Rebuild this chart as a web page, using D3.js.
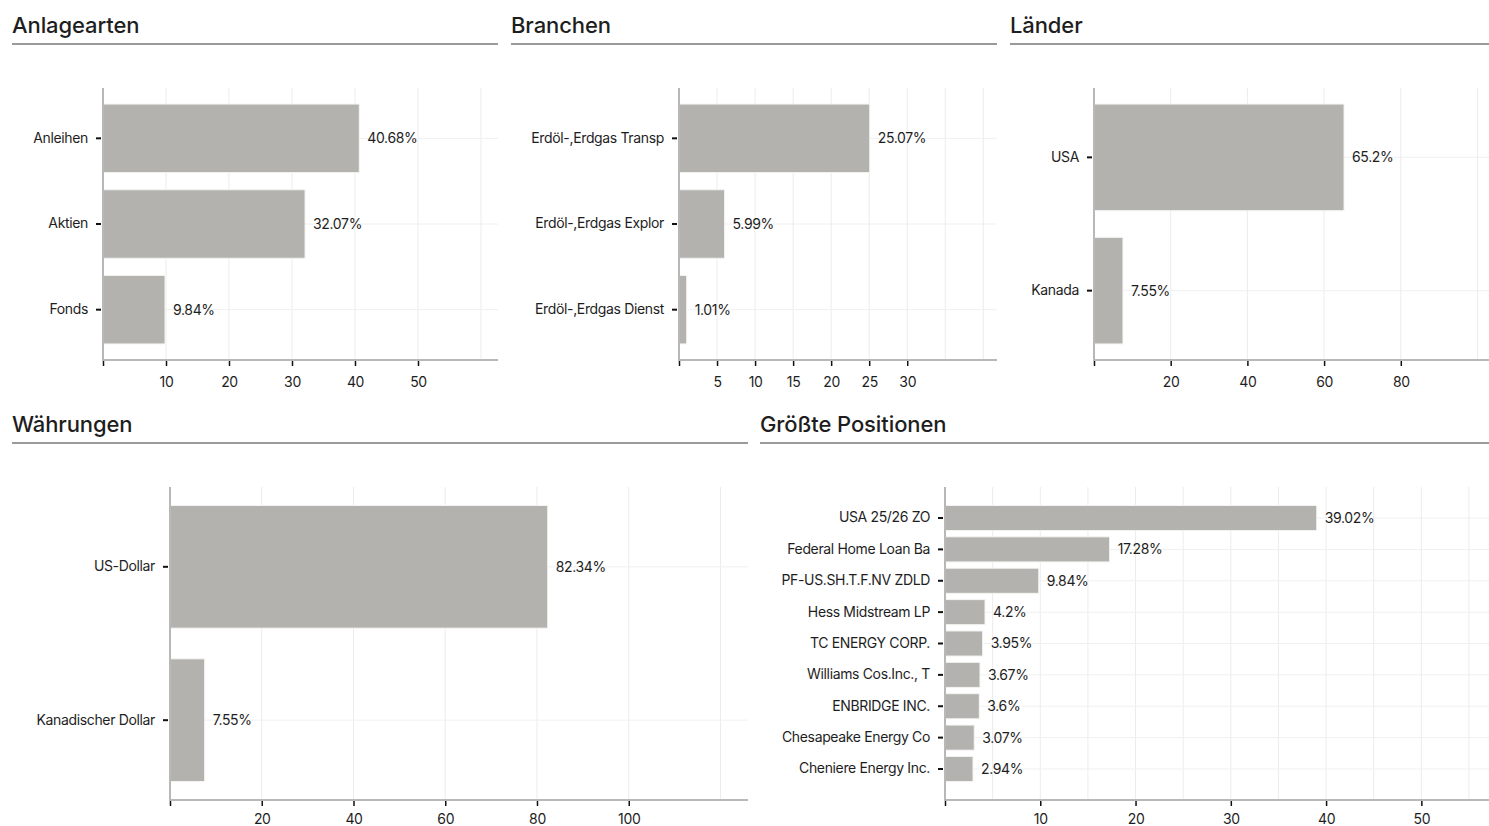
<!DOCTYPE html>
<html>
<head>
<meta charset="utf-8">
<script src="https://cdn.jsdelivr.net/npm/d3@7"></script>
<style>
  body { margin: 0; background: #fff; font-family: Inter, "Noto Sans", sans-serif; }
  svg text { fill: #1e1e1e; }
  .title { font-size: 22px; font-weight: 500; letter-spacing: -0.1px; }
  .tick text, .val { font-size: 14px; letter-spacing: -0.35px; }
</style>
</head>
<body>
<svg id="chart" width="1489" height="826"></svg>
<script>
// data
var anlageCats = ["Anleihen", "Aktien", "Fonds"];
var anlageVals = [40.68, 32.07, 9.84];
var anlageVLabels = ["40.68%", "32.07%", "9.84%"];
var anlageTicks = [10, 20, 30, 40, 50];

var branchenCats = ["Erdöl-,Erdgas Transp", "Erdöl-,Erdgas Explor", "Erdöl-,Erdgas Dienst"];
var branchenVals = [25.07, 5.99, 1.01];
var branchenVLabels = ["25.07%", "5.99%", "1.01%"];
var branchenTicks = [5, 10, 15, 20, 25, 30];

var laenderCats = ["USA", "Kanada"];
var laenderVals = [65.2, 7.55];
var laenderVLabels = ["65.2%", "7.55%"];
var laenderTicks = [20, 40, 60, 80];

var waehrCats = ["US-Dollar", "Kanadischer Dollar"];
var waehrVals = [82.34, 7.55];
var waehrVLabels = ["82.34%", "7.55%"];
var waehrTicks = [20, 40, 60, 80, 100];

var posCats = ["USA 25/26 ZO", "Federal Home Loan Ba", "PF-US.SH.T.F.NV ZDLD", "Hess Midstream LP",
  "TC ENERGY CORP.", "Williams Cos.Inc., T", "ENBRIDGE INC.", "Chesapeake Energy Co", "Cheniere Energy Inc."];
var posVals = [39.02, 17.28, 9.84, 4.2, 3.95, 3.67, 3.6, 3.07, 2.94];
var posVLabels = ["39.02%", "17.28%", "9.84%", "4.2%", "3.95%", "3.67%", "3.6%", "3.07%", "2.94%"];
var posTicks = [10, 20, 30, 40, 50];

// layout
var panels = [
  {title: "Anlagearten", cats: anlageCats, vals: anlageVals, vl: anlageVLabels, ticks: anlageTicks,
   gridStep: 10, xMax: 62.7, left: 12, right: 498, top: 0, px0: 103},
  {title: "Branchen", cats: branchenCats, vals: branchenVals, vl: branchenVLabels, ticks: branchenTicks,
   gridStep: 5, xMax: 41.8, left: 511, right: 997, top: 0, px0: 679},
  {title: "Länder", cats: laenderCats, vals: laenderVals, vl: laenderVLabels, ticks: laenderTicks,
   gridStep: 20, xMax: 103, left: 1010, right: 1489, top: 0, px0: 1094},
  {title: "Währungen", cats: waehrCats, vals: waehrVals, vl: waehrVLabels, ticks: waehrTicks,
   gridStep: 20, xMax: 126, left: 12, right: 748, top: 399, px0: 170, tall: true},
  {title: "Größte Positionen", cats: posCats, vals: posVals, vl: posVLabels, ticks: posTicks,
   gridStep: 5, xMax: 57.1, left: 760, right: 1489, top: 399, px0: 945, tall: true}
];

var svg = d3.select("#chart");
var barColor = "#b3b2ae";
var axisColor = "#b8b8b8";
var gridColor = "#ececec";

panels.forEach(function(p) {
  var g = svg.append("g");
  var y0 = p.top + 88, y1 = p.top + (p.tall ? 401 : 360);
  var inset = (y1 - y0) * 0.059;

  g.append("text").attr("class", "title")
    .attr("x", p.left).attr("y", p.top + 33)
    .text(p.title);
  g.append("line")
    .attr("x1", p.left).attr("x2", p.right)
    .attr("y1", p.top + 44).attr("y2", p.top + 44)
    .attr("stroke", "#9a9a9a").attr("stroke-width", 2);

  var x = d3.scaleLinear().domain([0, p.xMax]).range([p.px0, p.right]);
  var y = d3.scaleBand().domain(p.cats).range([y0 + inset, y1 - inset])
    .paddingInner(0.2).paddingOuter(0);

  // grid
  var gridVals = d3.range(p.gridStep, p.xMax, p.gridStep);
  g.append("g").selectAll("line").data(gridVals).enter().append("line")
    .attr("x1", function(d) { return x(d); }).attr("x2", function(d) { return x(d); })
    .attr("y1", y0).attr("y2", y1)
    .attr("stroke", gridColor).attr("stroke-width", 1);
  g.append("g").selectAll("line").data(p.cats).enter().append("line")
    .attr("x1", p.px0).attr("x2", p.right)
    .attr("y1", function(d) { return y(d) + y.bandwidth() / 2; })
    .attr("y2", function(d) { return y(d) + y.bandwidth() / 2; })
    .attr("stroke", "#f0f0f0").attr("stroke-width", 1);

  // bars
  g.append("g").selectAll("rect").data(p.vals).enter().append("rect")
    .attr("x", x(0))
    .attr("y", function(d, i) { return y(p.cats[i]); })
    .attr("width", function(d) { return x(d) - x(0); })
    .attr("height", y.bandwidth())
    .attr("fill", barColor)
    .attr("stroke", "#f4f4f2").attr("stroke-width", 1);

  g.append("g").selectAll("text").data(p.vals).enter().append("text")
    .attr("class", "val")
    .attr("x", function(d) { return x(d) + 8; })
    .attr("y", function(d, i) { return y(p.cats[i]) + y.bandwidth() / 2; })
    .attr("dy", "0.35em")
    .text(function(d, i) { return p.vl[i]; });

  // axes
  var xa = g.append("g").attr("transform", "translate(0," + y1 + ")")
    .call(d3.axisBottom(x).tickValues([0].concat(p.ticks))
      .tickFormat(function(d) { return d === 0 ? "" : d; })
      .tickSize(6).tickPadding(p.tall ? 8 : 11));
  xa.select(".domain").remove();
  xa.selectAll(".tick line").attr("stroke", "#111").attr("stroke-width", 1.5);
  xa.selectAll("text").style("font-family", "Inter, sans-serif");

  var ya = g.append("g").attr("transform", "translate(" + p.px0 + ",0)")
    .call(d3.axisLeft(y).tickSize(7).tickPadding(9));
  ya.select(".domain").remove();
  ya.selectAll(".tick line").attr("stroke", "#111").attr("stroke-width", 2)
    .attr("x2", -7).attr("x1", -2);
  ya.selectAll("text").attr("x", -15).style("font-family", "Inter, sans-serif");

  g.append("line").attr("x1", p.px0).attr("x2", p.px0).attr("y1", y0).attr("y2", y1 + 1)
    .attr("stroke", axisColor).attr("stroke-width", 2);
  g.append("line").attr("x1", p.px0).attr("x2", p.right).attr("y1", y1).attr("y2", y1)
    .attr("stroke", axisColor).attr("stroke-width", 2);
});
</script>
</body>
</html>
